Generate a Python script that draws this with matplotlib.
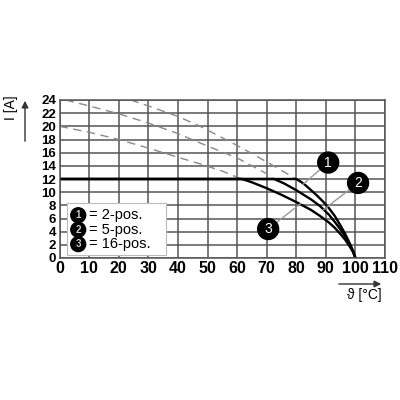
import matplotlib.pyplot as plt
import numpy as np

plt.rcParams['font.family'] = ['Liberation Sans', 'DejaVu Sans']

# derating curves, solid part
c1_x = [0, 80, 81.5, 83, 85, 87, 89, 91, 93, 95, 96.5, 98, 99.2, 100]
c1_y = [12, 12, 11.6, 11.1, 10.3, 9.5, 8.6, 7.6, 6.4, 4.9, 3.7, 2.3, 1.1, 0]
c2_x = [0, 72.5, 74, 76, 80, 85, 88, 91, 93, 95, 96.5, 98, 99.2, 100]
c2_y = [12, 12, 11.7, 11.3, 10.3, 8.9, 7.9, 6.6, 5.5, 4.3, 3.3, 2.1, 1.0, 0]
c3_x = [0, 61.5, 63, 65, 70, 75, 80, 85, 88, 91, 93, 95, 96.5, 98, 99.2, 100]
c3_y = [12, 12, 11.8, 11.5, 10.6, 9.6, 8.5, 7.3, 6.4, 5.4, 4.6, 3.6, 2.8, 1.8, 0.9, 0]

# dashed extensions above 12 A
d1_x = [24, 30, 40, 47.5, 60, 70, 80]
d1_y = [24, 23.1, 21.5, 20.0, 17.1, 14.6, 12]
d2_x = [2, 10, 20, 30, 40, 50, 60, 70, 72.5]
d2_y = [24, 23.1, 21.9, 20.5, 18.9, 17.0, 15.2, 12.8, 12]
d3_x = [0, 10, 20, 30, 40, 47.5, 55, 61.5]
d3_y = [20, 19.1, 18.0, 16.7, 15.3, 14.3, 13.2, 12]

x_ticks = list(range(0, 111, 10))
y_ticks = list(range(0, 25, 2))

legend_labels = ["= 2-pos.", "= 5-pos.", "= 16-pos."]
callouts = [("1", (90.8, 14.5), (82.3, 11.2)),
            ("2", (100.9, 11.4), (89.1, 7.3)),
            ("3", (70.5, 4.4), (81.6, 8.3))]

fig = plt.figure(figsize=(4, 4), dpi=100)
ax = fig.add_axes([0.149, 0.355, 0.8135, 0.395])
ax.set_xlim(0, 110)
ax.set_ylim(0, 24)
ax.set_xticks(x_ticks)
ax.set_yticks(y_ticks)
ax.tick_params(length=0, pad=2.5)
ax.tick_params(axis='x', labelsize=11.5)
ax.tick_params(axis='y', labelsize=9.5)
for lbl in ax.get_xticklabels() + ax.get_yticklabels():
    lbl.set_fontweight('bold')
ax.grid(True, color='#555555', lw=1.1)
ax.set_axisbelow(True)
for s in ax.spines.values():
    s.set_color('#555555')
    s.set_linewidth(1.1)

for x, y in [(d1_x, d1_y), (d2_x, d2_y), (d3_x, d3_y)]:
    ax.plot(x, y, color='#8a8a8a', lw=1.0, dashes=(6, 4))
for x, y in [(c3_x, c3_y), (c2_x, c2_y), (c1_x, c1_y)]:
    ax.plot(x, y, color='black', lw=1.7, solid_joinstyle='round')

for num, txt_pos, pt in callouts:
    ax.annotate(num, xy=pt, xytext=txt_pos, ha='center', va='center',
                color='white', fontsize=10,
                bbox=dict(boxstyle='circle,pad=0.25', fc='black', ec='black'),
                arrowprops=dict(arrowstyle='-', color='#999999', lw=1.0,
                                shrinkA=0, shrinkB=0),
                annotation_clip=False)

# legend box
leg = plt.Rectangle((2.4, 0.45), 33.5, 7.9, fc='white', ec='#bbbbbb', lw=0.8, zorder=5)
ax.add_patch(leg)
for i, lab in enumerate(legend_labels):
    yy = 6.5 - i * 2.2
    ax.text(6.3, yy, str(i + 1), ha='center', va='center', color='#cccccc',
            fontsize=7, fontweight='bold', zorder=7,
            bbox=dict(boxstyle='circle,pad=0.25', fc='black', ec='black'))
    ax.text(9.8, yy, lab, ha='left', va='center', fontsize=10.5, zorder=7)

# axis labels with arrows
fig.text(0.028, 0.73, "I [A]", rotation=90, ha='center', va='center', fontsize=10)
fig.add_artist(plt.Annotation('', xy=(0.0625, 0.755), xytext=(0.0625, 0.64),
                              xycoords='figure fraction',
                              arrowprops=dict(arrowstyle='-|>', color='#333333',
                                              lw=1.0, mutation_scale=10)))
fig.add_artist(plt.Annotation('', xy=(0.96, 0.29), xytext=(0.84, 0.29),
                              xycoords='figure fraction',
                              arrowprops=dict(arrowstyle='-|>', color='#333333',
                                              lw=1.0, mutation_scale=10)))
fig.text(0.91, 0.262, "ϑ [°C]", ha='center', va='center', fontsize=10)

fig.savefig('out.png', dpi=100)
